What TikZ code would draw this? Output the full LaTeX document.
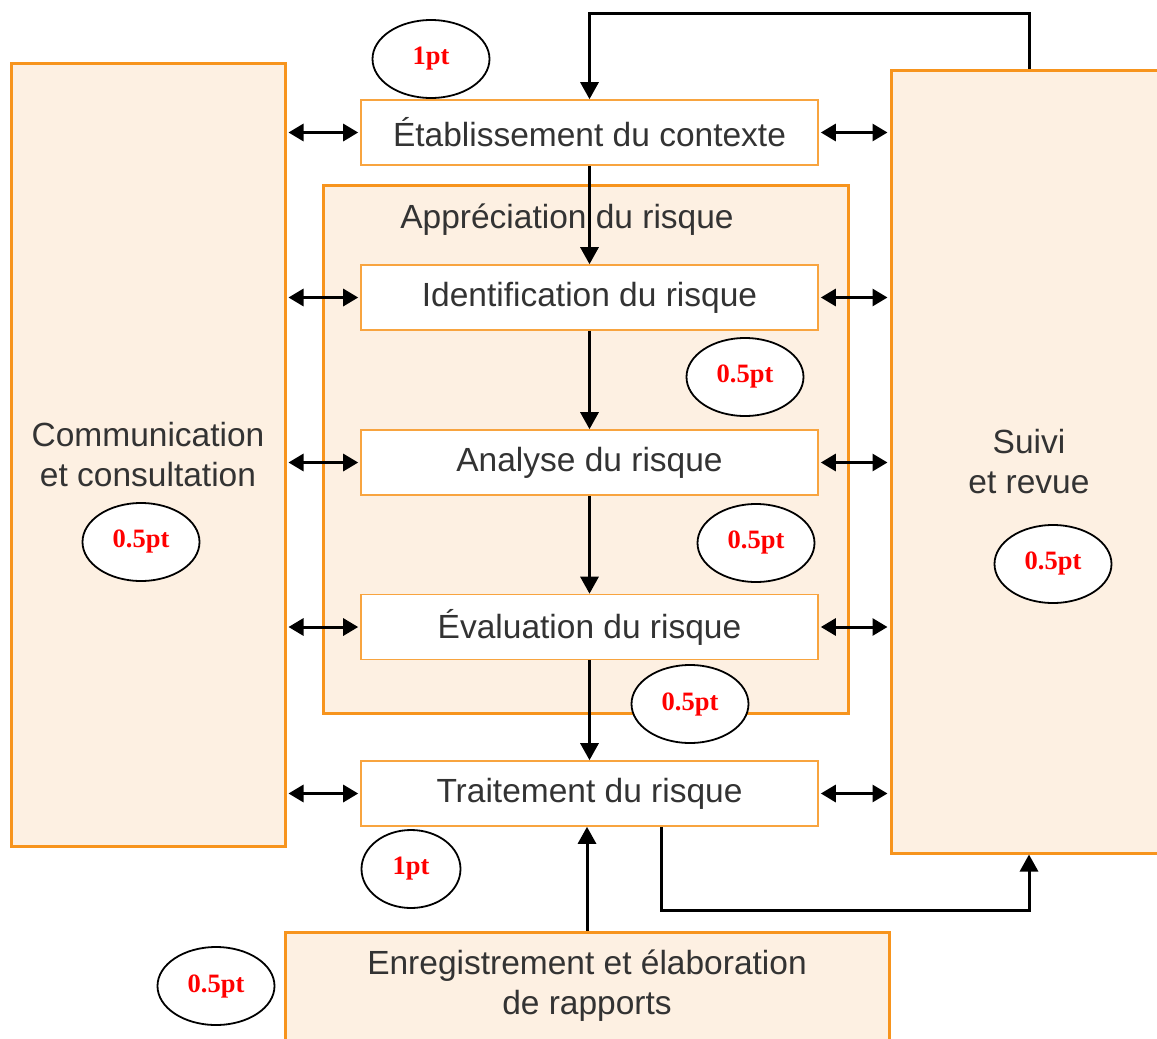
\documentclass[tikz,border=0pt]{standalone}
\usepackage{fontspec}
\setmainfont{Liberation Sans}
\newfontfamily\scorefont{Liberation Serif}
\usetikzlibrary{shapes.geometric,arrows.meta}
\definecolor{orng}{HTML}{F7941D}
\definecolor{pale}{HTML}{FDF0E2}
\definecolor{txt}{HTML}{333333}
\begin{document}
\begin{tikzpicture}[x=1pt,y=-1pt,
 font=\fontsize{33.5}{40}\selectfont,
 bigbox/.style={draw=orng, line width=3pt, fill=pale, text=txt, align=center, inner sep=0pt},
 stepbox/.style={draw=orng!85, line width=1.6pt, fill=white, text=txt, minimum width=457pt, minimum height=65pt, inner sep=0pt},
 arr/.style={line width=3pt, -{Triangle[length=17pt,width=18pt]}},
 dbl/.style={line width=3pt, {Triangle[length=15pt,width=17pt]}-{Triangle[length=15pt,width=17pt]}, shorten <=2pt, shorten >=2pt},
 scorenode/.style={ellipse, draw=black, line width=1.8pt, fill=white, minimum width=117pt, minimum height=78pt, inner sep=0pt, text=red, font=\scorefont\bfseries\fontsize{26.5}{26.5}\selectfont}]
\useasboundingbox (0,0) rectangle (1157,1039);
\clip (0,0) rectangle (1157,1039);
% big boxes
\node[bigbox, minimum width=274pt, minimum height=783pt] (comm) at (148,454.5) {Communication\\et consultation};
\node[bigbox, minimum width=276pt, minimum height=783pt] (suivi) at (1029,461.5) {Suivi\\et revue};
\node[bigbox, minimum width=525pt, minimum height=528pt] (appr) at (585.5,449) {};
\node[text=txt] (apprt) at (567,220) {Appréciation du risque};
\node[bigbox, minimum width=604pt, minimum height=130pt] (enr) at (587,997) {};
\node[text=txt, align=center] (enrt) at (587,986) {Enregistrement et élaboration\\de rapports};
% step boxes
\node[stepbox] (etab) at (589.5,132.5) {Établissement du contexte};
\node[stepbox] (idf) at (589.5,297.5) {Identification du risque};
\node[stepbox] (ana) at (589.5,462.5) {Analyse du risque};
\node[stepbox] (eva) at (589.5,627) {Évaluation du risque};
\node[stepbox] (trait) at (589.5,793.5) {Traitement du risque};
% helper coordinates
\coordinate (loopy) at (0,13);
\coordinate (tx) at (661,0);
\coordinate (by) at (0,910);
% vertical flow
\draw[arr] (etab.south) -- (idf.north);
\draw[arr] (idf.south) -- (ana.north);
\draw[arr] (ana.south) -- (eva.north);
\draw[arr] (eva.south) -- (trait.north);
\draw[arr] (enr.north) -- (enr.north |- trait.south);
\draw[arr] (suivi.north) -- (suivi.north |- loopy) -| (etab.north);
\draw[arr] (trait.south -| tx) -- (tx |- by) -| (suivi.south);
% double arrows
\foreach \b in {etab,idf,ana,eva,trait}{
  \draw[dbl] (comm.east |- \b.west) -- (\b.west);
  \draw[dbl] (\b.east) -- (suivi.west |- \b.east);
}
% score ellipses
\node[scorenode] (s1) at (431,59) {1pt};
\node[scorenode] (s2) at (745,377) {0.5pt};
\node[scorenode] (s3) at (141,542) {0.5pt};
\node[scorenode] (s4) at (756,543) {0.5pt};
\node[scorenode] (s5) at (1053,564) {0.5pt};
\node[scorenode] (s6) at (690,704) {0.5pt};
\node[scorenode, minimum width=99pt] (s7) at (411,869) {1pt};
\node[scorenode] (s8) at (216,986) {0.5pt};
\end{tikzpicture}
\end{document}
